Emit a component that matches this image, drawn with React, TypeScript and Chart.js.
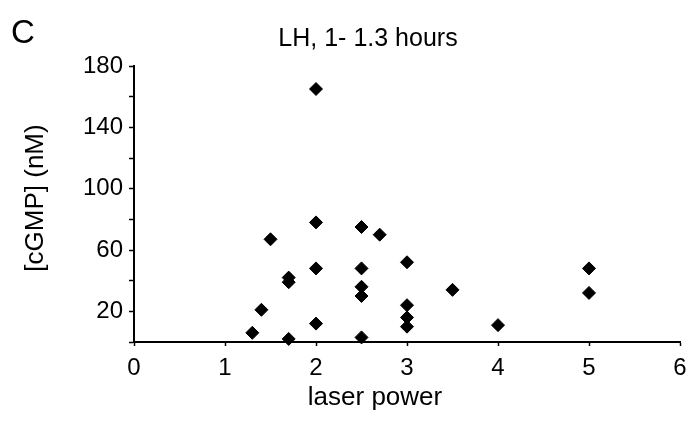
import React, { useEffect, useRef } from "react";
import { Chart, registerables } from "chart.js";

Chart.register(...registerables);

const panelLabel = "C";
const chartTitle = "LH, 1- 1.3 hours";
const xAxisTitle = "laser power";
const yAxisTitle = "[cGMP] (nM)";

const laserPower = [1.3, 1.4, 1.5, 1.7, 1.7, 1.7, 2, 2, 2, 2, 2.5, 2.5, 2.5, 2.5, 2.5, 2.7, 3, 3, 3, 3, 3.5, 4, 5, 5];
const cgmp = [6, 21, 67, 42, 39, 2, 165, 78, 48, 12, 75, 48, 36, 30, 3, 70, 52, 24, 16, 10, 34, 11, 48, 32];

const xTickValues = [0, 1, 2, 3, 4, 5, 6];
const yLabeledTicks = [20, 60, 100, 140, 180];

const FONT = "'Liberation Sans', Arial, Helvetica, sans-serif";

const textPlugin = {
  id: "customTexts",
  afterDraw(chart: any) {
    const ctx = chart.ctx;
    ctx.save();
    ctx.fillStyle = "#000";
    ctx.textBaseline = "alphabetic";
    // panel letter
    ctx.font = `33px ${FONT}`;
    ctx.textAlign = "left";
    ctx.fillText(panelLabel, 11, 43);
    // title
    ctx.font = `25px ${FONT}`;
    ctx.textAlign = "center";
    ctx.fillText(chartTitle, 368, 46);
    // x axis title
    ctx.font = `26px ${FONT}`;
    ctx.fillText(xAxisTitle, 375, 405);
    // y axis title
    ctx.translate(43, 198);
    ctx.rotate(-Math.PI / 2);
    ctx.font = `26px ${FONT}`;
    ctx.fillText(yAxisTitle, 0, 0);
    ctx.restore();
  },
};

export default function App() {
  const ref = useRef<HTMLCanvasElement | null>(null);
  useEffect(() => {
    if (!ref.current) return;
    const points = laserPower.map((x, i) => ({ x, y: cgmp[i] }));
    const chart = new Chart(ref.current, {
      type: "scatter",
      data: {
        datasets: [
          {
            data: points,
            pointStyle: "rectRot",
            pointRadius: 6.5,
            pointBorderWidth: 1,
            backgroundColor: "#000",
            borderColor: "#000",
            clip: false,
          } as any,
        ],
      },
      options: {
        animation: false,
        responsive: false,
        layout: { padding: { left: 0, top: 66, right: 11, bottom: 0 } },
        plugins: { legend: { display: false }, tooltip: { enabled: false }, title: { display: false } },
        scales: {
          x: {
            type: "linear",
            min: 0,
            max: 6,
            afterFit: (s: any) => {
              s.height = 81;
              s.paddingLeft = 0;
              s.paddingRight = 0;
            },
            afterBuildTicks: (s: any) => {
              s.ticks = xTickValues.map((v) => ({ value: v }));
            },
            ticks: {
              color: "#000",
              font: { family: FONT, size: 24 },
              padding: 8,
              maxRotation: 0,
              autoSkip: false,
              callback: (v: any) => String(v),
            },
            grid: {
              display: true,
              drawOnChartArea: false,
              drawTicks: true,
              tickLength: 4,
              tickColor: "#000",
              tickWidth: 1.5,
            },
            border: { display: true, color: "#000", width: 2 },
          },
          y: {
            type: "linear",
            min: 0,
            max: 180,
            afterFit: (s: any) => {
              s.width = 134;
              s.paddingTop = 0;
              s.paddingBottom = 0;
            },
            ticks: {
              stepSize: 20,
              autoSkip: false,
              color: "#000",
              font: { family: FONT, size: 24 },
              padding: 6,
              callback: (v: any) => (yLabeledTicks.includes(Number(v)) ? String(v) : ""),
            },
            grid: {
              display: true,
              drawOnChartArea: false,
              drawTicks: true,
              tickLength: 5,
              tickColor: "#000",
              tickWidth: 1.5,
            },
            border: { display: true, color: "#000", width: 2 },
          },
        },
      },
      plugins: [textPlugin],
    });
    return () => chart.destroy();
  }, []);
  return (
    <div style={{ position: "absolute", left: 0, top: 0, width: 691, height: 423, background: "#fff" }}>
      <canvas ref={ref} width={691} height={423} style={{ display: "block" }} />
    </div>
  );
}
